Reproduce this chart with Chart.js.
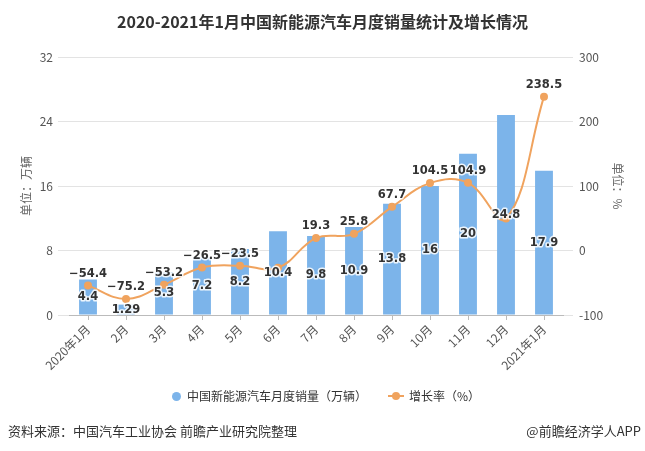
<!DOCTYPE html>
<html>
<head>
<meta charset="utf-8">
<script src="https://cdn.jsdelivr.net/npm/chart.js@4/dist/chart.umd.min.js"></script>
<style>
  html, body { margin: 0; padding: 0; background: #fff; }
  #wrap { position: relative; width: 645px; height: 451px; overflow: hidden; font-family: "Noto Sans CJK SC", "Noto Sans", sans-serif; }
  #c { position: absolute; left: 0; top: 0; }
  .title { position: absolute; left: 0; width: 645px; top: 10px; text-align: center; font-size: 16px; font-weight: bold; color: #333; line-height: 22px; }
  .legend { position: absolute; top: 388px; left: 0; width: 645px; font-size: 12px; color: #333; line-height: 16px; }
  .legend span { position: absolute; white-space: nowrap; }
  .dot { width: 9px; height: 9px; border-radius: 50%; background: #7cb4ea; }
  .src { position: absolute; top: 421px; left: 8px; font-size: 13px; color: #333; }
  .app { position: absolute; top: 421px; right: 4px; font-size: 13px; color: #333; }
</style>
</head>
<body>
<div id="wrap">
  <canvas id="c" width="645" height="451"></canvas>
  <div class="title">2020-2021年1月中国新能源汽车月度销量统计及增长情况</div>
  <div class="legend">
    <span class="dot" style="left:172px; top:4px;"></span>
    <span style="left:187px; top:0;">中国新能源汽车月度销量（万辆）</span>
    <span style="left:388px; top:0;"><svg width="16" height="16"><line x1="0" y1="8" x2="16" y2="8" stroke="#f0a35e" stroke-width="2"/><circle cx="8" cy="8" r="4" fill="#f0a35e"/></svg></span>
    <span style="left:409px; top:0;">增长率（%）</span>
  </div>
  <div class="src">资料来源：中国汽车工业协会 前瞻产业研究院整理</div>
  <div class="app">@前瞻经济学人APP</div>
</div>
<script>
const months = ["2020年1月", "2月", "3月", "4月", "5月", "6月", "7月", "8月", "9月", "10月", "11月", "12月", "2021年1月"];
const sales = [4.4, 1.29, 5.3, 7.2, 8.2, 10.4, 9.8, 10.9, 13.8, 16, 20, 24.8, 17.9];
const growth = [-54.4, -75.2, -53.2, -26.5, -23.5, -26.8, 19.3, 25.8, 67.7, 104.5, 104.9, 49.5, 238.5];
// growth labels not shown in the original (hidden behind the bar labels)
const hiddenGrowthLabels = [5, 11];

const barColor = "#7cb4ea";
const lineColor = "#f0a35e";

// draws the value labels: sales in the middle of each bar, growth above each point
const valueLabels = {
  id: "valueLabels",
  afterDatasetsDraw(chart) {
    const ctx = chart.ctx;
    ctx.save();
    ctx.font = "bold 11.5px 'DejaVu Sans', sans-serif";
    ctx.textAlign = "center";
    ctx.textBaseline = "middle";
    ctx.lineJoin = "round";
    ctx.lineWidth = 3;
    ctx.strokeStyle = "rgba(255,255,255,0.85)";
    ctx.fillStyle = "#333";

    const bars = chart.getDatasetMeta(0).data;
    bars.forEach((bar, i) => {
      const y = (bar.y + bar.base) / 2;
      ctx.strokeText(String(sales[i]), bar.x, y);
      ctx.fillText(String(sales[i]), bar.x, y);
    });

    const pts = chart.getDatasetMeta(1).data;
    pts.forEach((p, i) => {
      if (hiddenGrowthLabels.includes(i)) return;
      const txt = String(growth[i]).replace("-", "−");
      ctx.strokeText(txt, p.x, p.y - 12);
      ctx.fillText(txt, p.x, p.y - 12);
    });
    ctx.restore();
  }
};

const tickFont = { family: "'Noto Sans CJK SC', 'Noto Sans', sans-serif", size: 12 };

new Chart(document.getElementById("c"), {
  type: "bar",
  data: {
    labels: months,
    datasets: [
      {
        type: "bar",
        label: "中国新能源汽车月度销量（万辆）",
        data: sales,
        yAxisID: "y",
        backgroundColor: barColor,
        barPercentage: 0.47,
        categoryPercentage: 1,
        order: 2
      },
      {
        type: "line",
        label: "增长率（%）",
        data: growth,
        yAxisID: "y1",
        borderColor: lineColor,
        backgroundColor: lineColor,
        borderWidth: 2,
        pointRadius: 4,
        pointBorderWidth: 0,
        tension: 0.4,
        order: 1
      }
    ]
  },
  options: {
    responsive: false,
    animation: false,
    layout: { padding: { top: 57, left: 0, right: 0, bottom: 0 } },
    plugins: {
      legend: { display: false },
      tooltip: { enabled: false }
    },
    scales: {
      x: {
        grid: { offset: false, drawOnChartArea: false, drawTicks: true, tickLength: 5, color: "#bbb" },
        border: { display: true, color: "#bbb" },
        ticks: { color: "#555", font: tickFont, minRotation: 45, maxRotation: 45, padding: 2, autoSkip: false },
        afterFit: s => { s.height = 136; }
      },
      y: {
        position: "left",
        min: 0,
        max: 32,
        ticks: { stepSize: 8, color: "#555", font: tickFont, padding: 5 },
        grid: { color: "#e3e3e3", tickLength: 11 },
        border: { display: false },
        title: { display: true, text: "单位：万辆", color: "#666", font: tickFont, padding: { top: 19, bottom: 0 } },
        afterFit: s => { s.width = 69; }
      },
      y1: {
        position: "right",
        min: -100,
        max: 300,
        ticks: { stepSize: 100, color: "#555", font: tickFont, padding: 6 },
        grid: { drawOnChartArea: false, color: "#e3e3e3", tickLength: 10 },
        border: { display: false },
        title: { display: true, text: "单位：%", color: "#666", font: tickFont, padding: { top: 20, bottom: 0 } },
        afterFit: s => { s.width = 82; }
      }
    }
  },
  plugins: [valueLabels]
});
</script>
</body>
</html>
